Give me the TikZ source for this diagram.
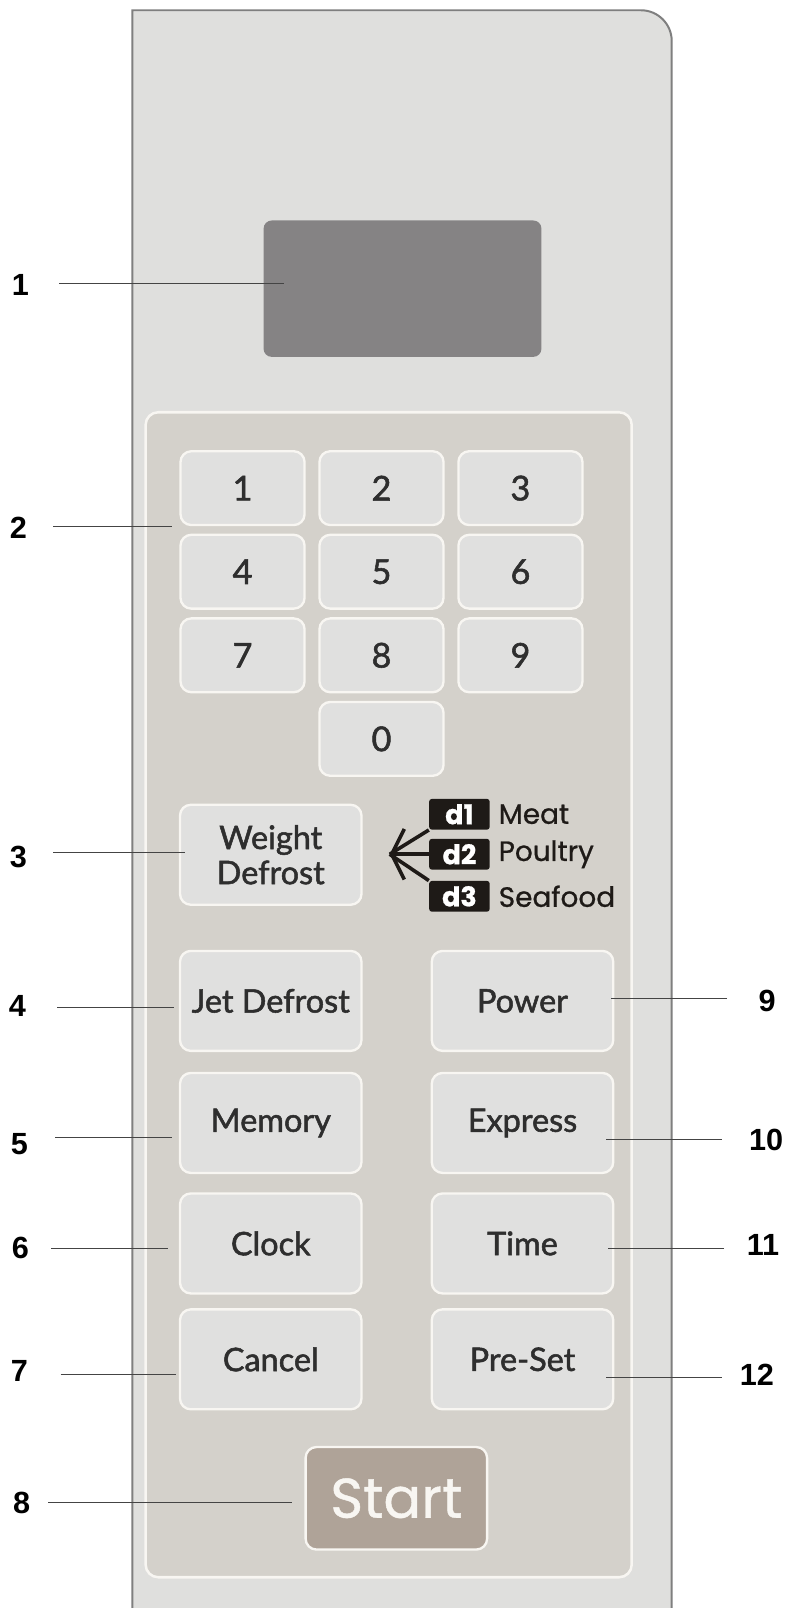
\documentclass[tikz,border=0pt]{standalone}
\usepackage{fontspec}
\setmainfont{Liberation Sans}
\newfontfamily\keyfont{Lato}[FakeBold=1.6]
\newfontfamily\tagfont{Poppins}[FakeBold=0.8]
\usetikzlibrary{arrows.meta}
\definecolor{panelfill}{HTML}{DFDFDD}
\definecolor{paneledge}{HTML}{7F7F7F}
\definecolor{screen}{HTML}{858384}
\definecolor{padfill}{HTML}{D4D1CB}
\definecolor{padedge}{HTML}{F8F6F2}
\definecolor{keyfill}{HTML}{E0E0DF}
\definecolor{keytext}{HTML}{2E2E2E}
\definecolor{startfill}{HTML}{AFA398}
\definecolor{tagfill}{HTML}{1E1A17}
\definecolor{leadline}{HTML}{444444}
\tikzset{
  keybox/.style={draw=padedge, fill=keyfill, line width=1.3pt, rounded corners=6pt,
    minimum width=2.42cm, minimum height=1.44cm, inner sep=0pt, text=keytext,
    font=\keyfont\fontsize{19}{19}\selectfont},
  funckey/.style={keybox, minimum width=3.54cm, minimum height=1.95cm,
    font=\keyfont\fontsize{18}{19.5}\selectfont},
  dtag/.style={fill=tagfill, text=white, rounded corners=1.5pt, minimum width=1.18cm,
    minimum height=0.6cm, inner sep=0pt, font=\tagfont\bfseries\fontsize{15}{15}\selectfont},
  dtext/.style={anchor=west, inner sep=0pt, text=tagfill, font=\tagfont\fontsize{15.5}{15.5}\selectfont},
  callout/.style={font=\bfseries\fontsize{17}{17}\selectfont},
  leader/.style={draw=leadline, line width=0.6pt}
}
\begin{document}
\begin{tikzpicture}[x=0.02cm, y=-0.02cm]
  \useasboundingbox[fill=white] (0,0) rectangle (768,1568);
  \filldraw[fill=panelfill, draw=paneledge, line width=1.1pt]
    (129,1580) -- (129,10) -- (625,10) arc[start angle=-90, end angle=0, radius=30] -- (655,1580);
  \node[fill=screen, rounded corners=4.5pt, minimum width=5.42cm, minimum height=2.66cm] (display) at (392.5,281.5) {};
  \filldraw[fill=padfill, draw=padedge, line width=1.4pt, rounded corners=7pt] (142,402) rectangle (616,1538);
  \foreach \d/\x/\y in {1/236.5/476, 2/372/476, 3/507.5/476, 4/236.5/557.5, 5/372/557.5, 6/507.5/557.5,
                         7/236.5/639, 8/372/639, 9/507.5/639, 0/372/720.5}
    \node[keybox] (key\d) at (\x,\y) {\d};
  \node[funckey, align=center] (weight) at (264,833.5) {Weight\\Defrost};
  \node[funckey] (jet) at (264,976) {Jet Defrost};
  \node[funckey] (memory) at (264,1095) {Memory};
  \node[funckey] (clock) at (264,1212.5) {Clock};
  \node[funckey] (cancel) at (264,1325.5) {Cancel};
  \node[funckey] (power) at (509.5,976) {Power};
  \node[funckey] (express) at (509.5,1095) {Express};
  \node[funckey] (time) at (509.5,1212.5) {Time};
  \node[funckey] (preset) at (509.5,1325.5) {Pre-Set};
  \node[funckey, fill=startfill, minimum height=2cm, text=padedge,
    font=\tagfont\fontsize{31}{31}\selectfont] (start) at (386.5,1461) {Start};
  \node[dtag] (d1) at (448,794) {d1};
  \node[dtag] (d2) at (448,833) {d2};
  \node[dtag] (d3) at (448,874) {d3};
  \node[dtext] (meat) at (486,794) {Meat};
  \node[dtext] (poultry) at (486,833) {Poultry};
  \node[dtext] (seafood) at (486,874) {Seafood};
  \coordinate (tip) at (380,833);
  \draw[tagfill, line width=2pt] (d1.south west) -- (tip);
  \draw[tagfill, line width=2pt] (d3.north west) -- (tip);
  \draw[tagfill, line width=2pt, -{Straight Barb[length=7pt, width=28pt]}] (d2.west) -- (tip);
  \foreach \k/\lx/\ly/\sx/\ex/\y in {1/20/278/58/277/276, 2/18/515/52/168/513, 3/18/836/52/180/831,
      4/17/981/56/170/982, 5/19/1116/54/168/1109, 6/20/1217/50/164/1217, 7/19/1337/59/172/1340,
      8/21/1466/47/285/1465, 9/748/976/709/596/974, 10/747/1112/704/591/1111,
      11/744/1214/706/593/1217, 12/738/1341/704/591/1343} {
    \node[callout] (n\k) at (\lx,\ly) {\k};
    \coordinate (s\k) at (\sx,\y);
    \coordinate (e\k) at (\ex,\y);
    \draw[leader] (s\k) -- (e\k);
  }
\end{tikzpicture}
\end{document}
